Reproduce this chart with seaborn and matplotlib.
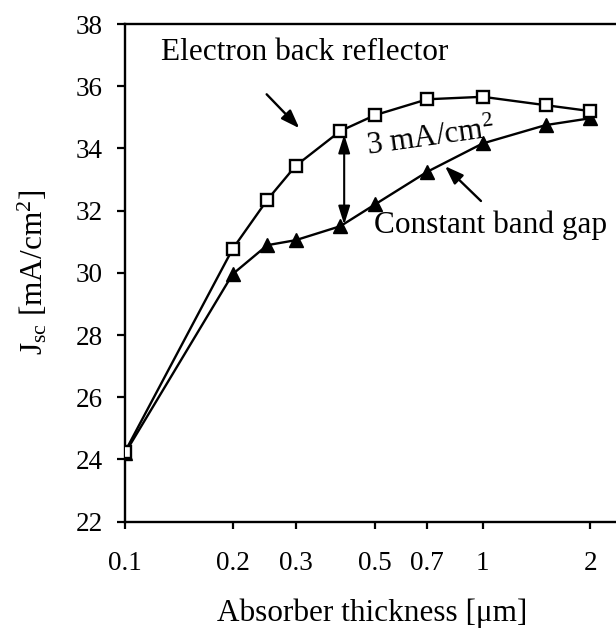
import matplotlib
matplotlib.use("Agg")
import matplotlib.pyplot as plt
import seaborn as sns
import pandas as pd

# Data
thickness = [0.1, 0.2, 0.25, 0.3, 0.4, 0.5, 0.7, 1.0, 1.5, 2.0]
jsc_ebr = [24.25, 30.77, 32.35, 33.44, 34.56, 35.07, 35.58, 35.66, 35.39, 35.20]
jsc_cbg = [24.2, 29.96, 30.89, 31.05, 31.5, 32.2, 33.25, 34.16, 34.75, 34.97]
xtick_vals = [0.1, 0.2, 0.3, 0.5, 0.7, 1, 2]
xtick_labels = ["0.1", "0.2", "0.3", "0.5", "0.7", "1", "2"]
ytick_vals = [22, 24, 26, 28, 30, 32, 34, 36, 38]

sns.set_style("ticks")
plt.rcParams["font.family"] = ["Liberation Serif", "DejaVu Serif"]
plt.rcParams["mathtext.fontset"] = "custom"
plt.rcParams["mathtext.rm"] = "Liberation Serif"
plt.rcParams["mathtext.it"] = "Liberation Serif:italic"
for key in ["text.color", "axes.labelcolor", "xtick.color", "ytick.color",
            "axes.edgecolor", "xtick.labelcolor", "ytick.labelcolor"]:
    plt.rcParams[key] = "black"

fig = plt.figure(figsize=(6.16, 6.31), dpi=100)
ax = fig.add_axes([125 / 616, (631 - 521.7) / 631, 491 / 616, (521.7 - 24) / 631])

df_ebr = pd.DataFrame({"t": thickness, "j": jsc_ebr})
df_cbg = pd.DataFrame({"t": thickness, "j": jsc_cbg})

sns.lineplot(data=df_cbg, x="t", y="j", ax=ax, color="black", lw=1.7,
             marker="^", markersize=9.5, markerfacecolor="black",
             markeredgecolor="black", mew=1.0, zorder=3)
sns.lineplot(data=df_ebr, x="t", y="j", ax=ax, color="black", lw=1.7,
             marker="s", markersize=8.5, markerfacecolor="white",
             markeredgecolor="black", mew=1.7, zorder=4)

ax.set_xscale("log")
ax.set_xlim(0.1, 2.359)
ax.set_ylim(22, 38)
ax.set_xticks(xtick_vals)
ax.set_xticklabels(xtick_labels)
ax.xaxis.set_minor_locator(matplotlib.ticker.NullLocator())
ax.set_yticks(ytick_vals)
ax.set_yticklabels([str(v) for v in ytick_vals])

ax.tick_params(axis="y", direction="out", length=6, width=1.6, pad=10, labelsize=19.5)
ax.tick_params(axis="x", direction="out", length=5, width=1.6, pad=16, labelsize=19.5)
for side in ["left", "top", "bottom"]:
    ax.spines[side].set_linewidth(1.7)
    ax.spines[side].set_visible(True)
ax.spines["right"].set_visible(False)

ax.set_xlabel("Absorber thickness [\u03bcm]", fontsize=22.5)
ax.set_ylabel("J$_{\\mathrm{sc}}$ [mA/cm$^{2}$]", fontsize=22.5)
ax.xaxis.set_label_coords(0.504, -0.154)
ax.yaxis.set_label_coords(-0.153, 0.5)

ax.text(0.126, 36.84, "Electron back reflector", fontsize=22.5, ha="left", va="baseline")
ax.text(0.498, 31.28, "Constant band gap", fontsize=22.5, ha="left", va="baseline")
ax.text(0.4777, 33.79, "3 mA/cm$^{2}$", fontsize=22.5, ha="left", va="baseline",
        rotation=8, rotation_mode="anchor")

ax.annotate("", xy=(0.3072, 34.65), xytext=(0.2489, 35.74),
            arrowprops=dict(arrowstyle="-|>,head_length=0.7,head_width=0.25",
                            color="black", lw=1.7, mutation_scale=16,
                            shrinkA=0, shrinkB=0))
ax.annotate("", xy=(0.7846, 33.43), xytext=(0.989, 32.31),
            arrowprops=dict(arrowstyle="-|>,head_length=0.7,head_width=0.25",
                            color="black", lw=1.7, mutation_scale=16,
                            shrinkA=0, shrinkB=0))
ax.annotate("", xy=(0.41, 31.55), xytext=(0.41, 34.45),
            arrowprops=dict(arrowstyle="<|-|>,head_length=0.7,head_width=0.22",
                            color="black", lw=1.5, mutation_scale=16,
                            shrinkA=0, shrinkB=0))

if ax.get_legend() is not None:
    ax.get_legend().remove()

fig.savefig("out.png", dpi=100)
